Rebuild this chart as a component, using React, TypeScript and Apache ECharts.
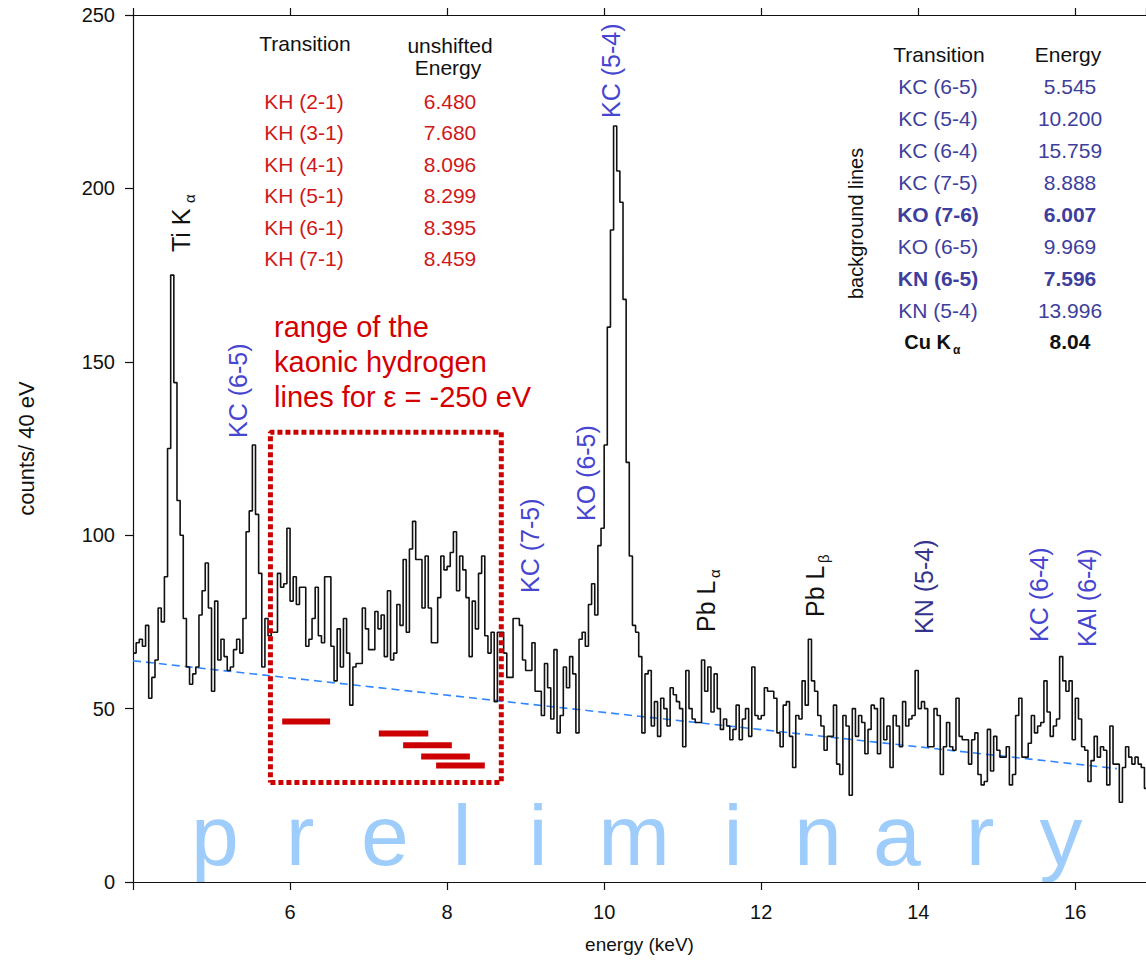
import { useEffect, useRef } from "react";
import * as echarts from "echarts";

// Spectrum: counts per 40 eV bin, first bin starting at 4.00 keV
const BIN_START = 4.0;
const BIN_WIDTH = 0.04;
const counts: number[] = [
  66, 69, 70, 68, 74, 53, 59, 64, 79, 75,
  88, 125, 175, 144, 110, 100, 76, 62, 57, 60,
  62, 77, 84, 92, 79, 55, 81, 64, 70, 65,
  61, 62, 67, 70, 66, 76, 101, 107, 126, 106,
  89, 62, 76, 71, 72, 72, 89, 85, 86, 102,
  81, 88, 80, 85, 85, 68, 70, 76, 85, 71,
  69, 88, 88, 68, 58, 73, 62, 76, 66, 51,
  62, 63, 63, 79, 73, 67, 67, 78, 73, 77,
  65, 84, 64, 66, 80, 74, 93, 72, 96, 104,
  93, 93, 79, 94, 79, 69, 69, 82, 94, 90,
  91, 95, 101, 84, 94, 90, 82, 65, 81, 73,
  89, 94, 71, 66, 72, 52, 72, 72, 66, 59,
  59, 76, 76, 74, 64, 61, 61, 69, 55, 55,
  48, 63, 56, 47, 67, 43, 48, 62, 56, 65,
  60, 43, 70, 72, 68, 80, 86, 77, 97, 102,
  126, 160, 188, 218, 205, 196, 168, 121, 94, 74,
  72, 65, 43, 60, 61, 45, 52, 42, 53, 50,
  45, 56, 54, 52, 50, 39, 61, 50, 47, 46,
  46, 64, 55, 62, 49, 60, 50, 44, 47, 45,
  41, 44, 51, 41, 47, 50, 42, 62, 48, 47,
  48, 56, 55, 55, 53, 43, 39, 51, 52, 42,
  33, 48, 47, 58, 51, 70, 58, 55, 48, 45,
  38, 42, 42, 51, 34, 31, 48, 45, 25, 50,
  42, 48, 46, 37, 44, 51, 50, 37, 53, 41,
  45, 33, 48, 45, 39, 52, 45, 47, 48, 61,
  50, 52, 50, 39, 39, 50, 48, 31, 39, 46,
  39, 38, 53, 42, 41, 41, 34, 41, 43, 31,
  28, 29, 44, 32, 42, 38, 36, 36, 39, 28,
  31, 48, 53, 36, 36, 40, 48, 43, 45, 46,
  58, 49, 42, 45, 47, 65, 58, 55, 58, 41,
  53, 47, 39, 38, 29, 35, 42, 36, 39, 38,
  28, 45, 34, 34, 23, 33, 39, 36, 34, 36,
  34, 33, 27, 30, 32,
];

// Linear background estimate (energy keV, counts)
const backgroundEnergy = [4.0, 16.53];
const backgroundCounts = [63.8, 32.7];

// Region of the kaonic hydrogen lines for epsilon = -250 eV
const khRegionEnergy = [5.75, 8.69];
const khRegionCounts = [28.7, 129.7];

// Horizontal ranges of the shifted KH transitions
const khBarStart = [5.9, 7.13, 7.44, 7.67, 7.86];
const khBarEnd = [6.51, 7.76, 8.06, 8.29, 8.48];
const khBarLevel = [46.3, 42.8, 39.4, 36.2, 33.6];

// Tables
const khTransitions = ["KH (2-1)", "KH (3-1)", "KH (4-1)", "KH (5-1)", "KH (6-1)", "KH (7-1)"];
const khEnergies = ["6.480", "7.680", "8.096", "8.299", "8.395", "8.459"];
const bgTransitions = ["KC (6-5)", "KC (5-4)", "KC (6-4)", "KC (7-5)", "KO (7-6)", "KO (6-5)", "KN (6-5)", "KN (5-4)"];
const bgEnergies = ["5.545", "10.200", "15.759", "8.888", "6.007", "9.969", "7.596", "13.996"];
const bgBold = [false, false, false, false, true, false, true, false];

// Peak annotations
const peakNames = ["Ti K", "KC (6-5)", "KC (7-5)", "KO (6-5)", "KC (5-4)", "Pb L", "Pb L", "KN (5-4)", "KC (6-4)", "KAl (6-4)"];
const peakSubs = ["α", "", "", "", "", "α", "β", "", "", ""];

const watermark = "preliminary";

const FONT = "'Liberation Sans', Arial, Helvetica, sans-serif";
const NARROW = "'Liberation Sans Narrow', 'Liberation Sans', Arial, sans-serif";

const RED = "#cc0000";
const TXT_RED = "#d01818";
const BLUE = "#4646d0";
const NAVY = "#34348f";
const TABLE_BLUE = "#3e3e9c";

function vText(x: number, y: number, text: string, size: number, color: string, weight = "normal") {
  return {
    type: "text",
    x,
    y,
    rotation: Math.PI / 2,
    silent: true,
    style: { text, fontSize: size, fontFamily: FONT, fontWeight: weight, fill: color, align: "left", verticalAlign: "middle" },
  };
}

function hText(x: number, y: number, text: string, size: number, color: string, align = "center", weight = "normal", family = FONT) {
  return {
    type: "text",
    x,
    y,
    silent: true,
    style: { text, fontSize: size, fontFamily: family, fontWeight: weight, fill: color, align, verticalAlign: "middle" },
  };
}

function buildOption() {
  const histData: number[][] = counts.map((c, i) => [BIN_START + i * BIN_WIDTH, c]);
  histData.push([BIN_START + counts.length * BIN_WIDTH, counts[counts.length - 1]]);

  const bgData = backgroundEnergy.map((e, i) => [e, backgroundCounts[i]]);
  const [ex0, ex1] = khRegionEnergy;
  const [cy0, cy1] = khRegionCounts;
  const boxData = [[ex0, cy0], [ex1, cy0], [ex1, cy1], [ex0, cy1], [ex0, cy0]];

  const barSeries = khBarStart.map((s, i) => ({
    type: "line",
    silent: true,
    symbol: "none",
    data: [[s, khBarLevel[i]], [khBarEnd[i], khBarLevel[i]]],
    lineStyle: { color: RED, width: 6, cap: "butt" },
    z: 4,
  }));

  // layout of the rotated peak labels (pixel centre x, pixel bottom y)
  const peakPos = [
    [181, 252], [238, 438], [530, 593], [586, 521], [611, 118],
    [706, 632], [815, 617], [924, 634], [1039, 642], [1087, 647],
  ];
  const peakColor = ["#111", BLUE, BLUE, BLUE, BLUE, "#111", "#111", NAVY, BLUE, BLUE];
  const subPos = [[189, 203], null, null, null, null, [714, 578], [823, 563], null, null, null];

  const graphic: any[] = [];

  peakNames.forEach((name, i) => {
    const [px, py] = peakPos[i];
    graphic.push(vText(px, py, name, 25, peakColor[i]));
    const sp = subPos[i];
    if (peakSubs[i] && sp) graphic.push(vText(sp[0], sp[1], peakSubs[i], 15, peakColor[i]));
  });

  // left table
  const TS = 21;
  graphic.push(hText(305, 43, "Transition", TS, "#111"));
  graphic.push(hText(450, 45, "unshifted", TS, "#111"));
  graphic.push(hText(448, 67, "Energy", TS, "#111"));
  khTransitions.forEach((t, i) => {
    const y = 101 + 31.5 * i;
    graphic.push(hText(304, y, t, TS, TXT_RED));
    graphic.push(hText(450, y, khEnergies[i], TS, TXT_RED));
  });

  // right table
  graphic.push(hText(939, 54, "Transition", TS, "#111"));
  graphic.push(hText(1068, 54, "Energy", TS, "#111"));
  bgTransitions.forEach((t, i) => {
    const y = 86.7 + 31.9 * i;
    const w = bgBold[i] ? "bold" : "normal";
    graphic.push(hText(938, y, t, TS, TABLE_BLUE, "center", w));
    graphic.push(hText(1070, y, bgEnergies[i], TS, TABLE_BLUE, "center", w));
  });
  const cuY = 86.7 + 31.9 * bgTransitions.length;
  graphic.push(hText(951, cuY, "Cu K", 20, "#111", "right", "bold"));
  graphic.push(hText(953, cuY + 8, "α", 12, "#111", "left", "bold"));
  graphic.push(hText(1070, cuY, "8.04", TS, "#111", "center", "bold"));
  graphic.push(vText(856, 299, "background lines", 20, "#111"));

  // region caption
  ["range of the", "kaonic hydrogen", "lines for ε = -250 eV"].forEach((line, i) => {
    graphic.push(hText(274, 327 + 35 * i, line, 29, "#d40000", "left"));
  });

  // watermark
  const letterX = [215, 300, 385, 462, 538, 634, 733, 818, 897, 980, 1061];
  watermark.split("").forEach((ch, i) => {
    graphic.push({
      type: "text",
      x: letterX[i],
      y: 835,
      silent: true,
      z: 0,
      style: { text: ch, fontSize: 86, fontFamily: FONT, fill: "#9fcdfb", align: "center", verticalAlign: "middle" },
    });
  });

  const axisLine = { show: true, onZero: false, lineStyle: { color: "#111", width: 1.2 } };
  const tickFmt = (v: number) => (v >= 6 && Math.abs(v - Math.round(v / 2) * 2) < 1e-6 ? String(Math.round(v)) : "");

  return {
    animation: false,
    backgroundColor: "#ffffff",
    grid: { left: 133, right: 0, top: 15, bottom: 83, containLabel: false },
    xAxis: [
      {
        type: "value",
        min: 4,
        max: 16.9,
        interval: 2,
        position: "bottom",
        axisLine,
        axisTick: { show: true, length: 8, lineStyle: { color: "#111", width: 1.2 } },
        axisLabel: { margin: 20, fontSize: 20, color: "#111", fontFamily: NARROW, formatter: tickFmt, showMaxLabel: false },
        splitLine: { show: false },
        name: "energy (keV)",
        nameLocation: "middle",
        nameGap: 53,
        nameTextStyle: { fontSize: 19, color: "#111", fontFamily: NARROW },
      },
      {
        type: "value",
        min: 4,
        max: 16.9,
        interval: 2,
        position: "top",
        axisLine,
        axisTick: { show: true, length: 7, lineStyle: { color: "#111", width: 1.2 } },
        axisLabel: { show: false },
        splitLine: { show: false },
      },
    ],
    yAxis: {
      type: "value",
      min: 0,
      max: 250,
      interval: 50,
      axisLine,
      axisTick: { show: true, length: 8, lineStyle: { color: "#111", width: 1.2 } },
      axisLabel: { margin: 18, fontSize: 20, color: "#111", fontFamily: NARROW },
      splitLine: { show: false },
      name: "counts/ 40 eV",
      nameLocation: "middle",
      nameGap: 96,
      nameRotate: 90,
      nameTextStyle: { fontSize: 22, color: "#111", fontFamily: FONT },
    },
    series: [
      {
        type: "line",
        name: "background",
        silent: true,
        symbol: "none",
        data: bgData,
        lineStyle: { color: "#2f86ff", width: 1.6, type: [8, 5] },
        z: 2,
      },
      {
        type: "line",
        name: "spectrum",
        silent: true,
        symbol: "none",
        step: "end",
        data: histData,
        lineStyle: { color: "#111", width: 1.6 },
        z: 3,
      },
      {
        type: "line",
        name: "KH region",
        silent: true,
        symbol: "none",
        data: boxData,
        lineStyle: { color: RED, width: 5, type: [5, 3], cap: "butt" },
        z: 5,
      },
      ...barSeries,
    ],
    graphic,
  };
}

export default function App() {
  const ref = useRef<HTMLDivElement>(null);
  useEffect(() => {
    if (!ref.current) return;
    const chart = echarts.init(ref.current, null, { renderer: "svg" });
    chart.setOption(buildOption() as any);
    return () => chart.dispose();
  }, []);
  return (
    <div
      ref={ref}
      style={{ position: "fixed", left: 0, top: 0, width: 1146, height: 965, background: "#fff" }}
    />
  );
}
